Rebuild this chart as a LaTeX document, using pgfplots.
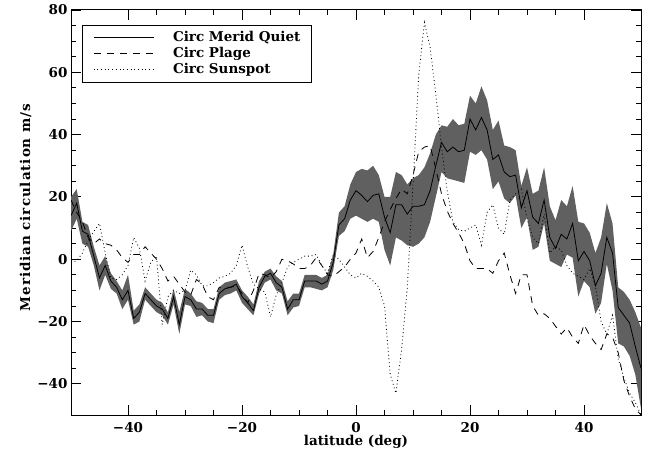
\documentclass[border=0pt]{standalone}
\usepackage{fontspec}
\setmainfont{DejaVu Serif}
\usepackage{pgfplots}
\usepackage{pgfplotstable}
\pgfplotsset{compat=1.18}
\usepgfplotslibrary{fillbetween}
\definecolor{bandgray}{RGB}{96,96,96}

\pgfplotstableread{
lat q lo hi p s
-50 14 9 20 19 -1
-49 18 13 22.5 15 -0.5
-48 9 5 12 12 2
-47 8 4 11 7 6
-46 1 -2 4 5 9
-45 -6 -10 -2 6.5 11.5
-44 -2 -5 1 5 2
-43 -7 -9.5 -4.5 4.5 -6
-42 -9 -11 -7 3 -6.5
-41 -13 -16 -10 0.5 -5
-40 -10 -13 -5 -1 -2
-39 -19 -21 -16.5 1.5 7
-38 -17 -20 -14.5 1.5 3.5
-37 -11 -13 -9 4 -7
-36 -13 -15 -11 2 -1
-35 -15 -17 -13 0 1
-34 -16 -18 -14 -3 -21
-33 -19 -21 -17 -7 -12
-32 -12 -14.5 -9.5 -5.5 -10
-31 -21 -24 -17 -8 -11
-30 -12 -14.5 -9.5 -10.5 -10
-29 -13 -15 -11 -11.5 -3.5
-28 -16 -18.5 -13.5 -6.5 -5
-27 -16 -18 -14 -8 -8.5
-26 -18 -20 -16 -12 -8.5
-25 -18 -20.5 -16 -13 -7.5
-24 -11 -13 -9 -9 -6
-23 -9.5 -11.5 -7.5 -9 -5.5
-22 -9 -11 -7 -9 -4.5
-21 -8 -10 -6.5 -8.5 -2
-20 -12 -14 -10 -11 4.5
-19 -14 -16 -12 -14 -2.5
-18 -16.5 -18 -14.5 -10 -8
-17 -9 -11 -7 -4.5 -9.5
-16 -5.5 -7.5 -4 -5 -10.5
-15 -4.5 -6.5 -3 -6 -18.5
-14 -7.5 -10 -5.5 -4 -11.5
-13 -9 -11 -7 0 -7.5
-12 -16 -18 -13.5 -0.5 -2.5
-11 -13 -15.5 -11 -1.5 -1
-10 -13 -15 -11 -3 0
-9 -7 -9 -5 -3 1
-8 -7 -9 -5 -2 1
-7 -7 -9.5 -5 0.5 1.5
-6 -8 -10 -6 -2 -2
-5 -7 -9 -5 -5 -4.5
-4 -1 -3.5 1.5 -5.5 1.5
-3 11 7.5 15 -4 0
-2 13 9 17 -2.5 -2.5
-1 19 13 24 0 -5
0 22 14 28 2 -6
1 20.5 13 29 6.5 -4.5
2 18.5 12 28.5 0.5 -5.5
3 20.5 13 30 2.5 -7
4 21 12 27 7 -9
5 13.5 3 20 12 -15
6 8.5 -2 20 16 -37
7 17.5 7 28 19.5 -43
8 17.5 6 27 22.5 -29
9 14.5 4.5 24 21 -9
10 17 4 26 27 24
11 17 5 27 34.5 59
12 17.5 7 29.5 36 76
13 22 12 34 36.5 68
14 30 20 40 29 53
15 37.5 28 43 21 36
16 34.5 26 42.5 15.5 22
17 36 25.5 45 11.5 12
18 34.5 25 43 8.5 9.5
19 35 24.5 43.5 5 9
20 45 34.5 52.5 -0.5 10
21 41.5 33.5 50 -3 11
22 45.5 35 55.5 -3 4.5
23 41.5 32 51 -3 15
24 32 22.5 41.5 -4.5 17.5
25 33.5 25 44.5 -0.5 10
26 28 19.5 36.5 2 8
27 26.5 18 36 -5 19
28 27 20.5 35 -11 21
29 16.5 10 23.5 -5 22.5
30 22 13.5 29.5 -5 13
31 13.5 3 21 -15 7
32 11.5 4 22 -18 5
33 19 11.5 29.5 -17.5 14.5
34 7 -0.5 17 -19 2
35 3.5 -1.5 12.5 -21.5 4
36 8 -2.5 19 -24 3
37 6.5 1.5 17 -22 -2
38 11.5 0.5 23.5 -25 -4.5
39 -0.5 -12 12 -27 -5.5
40 2.5 -7 11.5 -21 -6.5
41 -0.5 -9 8.5 -24.5 -3
42 -8.5 -17.5 2 -27 -8.5
43 -4.5 -14 7 -29 -20
44 7 -1.5 18 -24 -24
45 2 -10 11.5 -25 -18
46 -15.5 -27 -9 -30 -32
47 -18 -28 -10.5 -39 -38
48 -20.5 -31 -13 -44 -43
49 -28 -37 -17 -48 -46
50 -35 -48 -22 -50 -50
}\data

\newcommand{\chartfont}{\bfseries\fontsize{13.5}{16}\selectfont}

\begin{document}
\begin{tikzpicture}
\begin{axis}[
  scale only axis, width=570pt, height=405pt,
  xmin=-50, xmax=50, ymin=-50, ymax=80,
  xtick={-40,-20,0,20,40},
  xticklabels={−40,−20,0,20,40},
  ytick={-40,-20,0,20,40,60,80},
  yticklabels={−40,−20,0,20,40,60,80},
  minor x tick num=3, minor y tick num=3,
  tick align=inside,
  major tick length=10pt, minor tick length=5pt,
  every tick/.style={black, line width=0.9pt},
  axis line style={black, line width=1pt},
  tick label style={font=\chartfont},
  xticklabel style={yshift=-4pt},
  label style={font=\chartfont},
  xlabel={latitude (deg)},
  ylabel={\addfontfeatures{LetterSpace=7}Meridian circulation m/s},
  xlabel style={at={(axis description cs:0.5,-0.0741)}, anchor=base},
  ylabel style={at={(axis description cs:-0.0719,0.512)}, anchor=base},
  legend cell align=left,
  legend image code/.code={\draw[#1] (0pt,0pt) -- (60pt,0pt);},
  legend style={at={(axis description cs:0.019,0.963)}, anchor=north west,
    draw=black, line width=0.8pt, fill=white, font=\chartfont,
    inner xsep=11pt, inner ysep=6pt, row sep=3pt,
    nodes={inner sep=0pt, text height=10pt, text depth=3pt},
    /tikz/every odd column/.append style={column sep=19pt}},
]
\addplot[name path=hi, draw=none, forget plot] table[x=lat,y=hi]{\data};
\addplot[name path=lo, draw=none, forget plot] table[x=lat,y=lo]{\data};
\addplot[fill=bandgray, draw=none, forget plot] fill between[of=hi and lo];
\addplot[black, line width=0.8pt] table[x=lat,y=q]{\data};
\addplot[black, line width=0.8pt, dash pattern=on 7pt off 6pt] table[x=lat,y=p]{\data};
\addplot[black, line width=0.8pt, dash pattern=on 0.9pt off 2.8pt] table[x=lat,y=s]{\data};
\legend{Circ Merid Quiet, Circ Plage, Circ Sunspot}
\end{axis}
\path (-71pt,-44pt) rectangle (585pt,415pt);
\end{tikzpicture}
\end{document}
